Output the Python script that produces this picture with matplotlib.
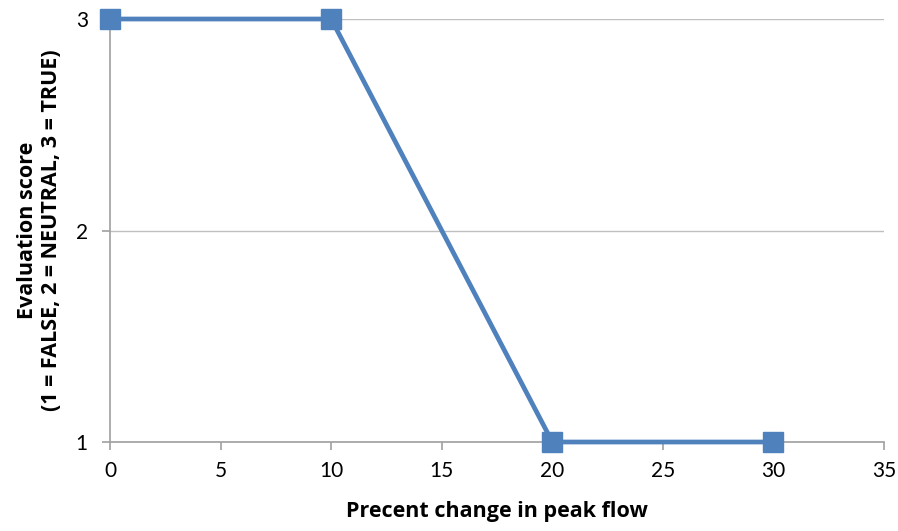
import numpy as np
import matplotlib.pyplot as plt

plt.rcParams['font.family'] = ['Lato', 'DejaVu Sans']

# data
pct_change = [0, 10, 20, 30]
score = [3, 3, 1, 1]
x_ticks = [0, 5, 10, 15, 20, 25, 30, 35]
y_ticks = [1, 2, 3]

fig = plt.figure(figsize=(8.98, 5.31), dpi=100)
ax = fig.add_axes([0.1225, 0.1676, 0.862, 0.7966])

ax.plot(pct_change, score, color='#4F81BD', linewidth=3.4, marker='s',
        markersize=14, clip_on=False, zorder=3)

ax.set_xlim(0, 35)
ax.set_ylim(1, 3)
ax.set_xticks(x_ticks)
ax.set_yticks(y_ticks)
ax.yaxis.grid(True, color='#BFBFBF', linewidth=1)
ax.set_axisbelow(True)

for s in ['top', 'right']:
    ax.spines[s].set_visible(False)
for s in ['left', 'bottom']:
    ax.spines[s].set_color('#A0A0A0')
    ax.spines[s].set_linewidth(1.2)
ax.tick_params(colors='#A0A0A0', labelcolor='black', labelsize=15,
               length=6, width=1.2)
ax.tick_params(axis='x', pad=8)
ax.tick_params(axis='y', pad=10)

lab_font = dict(family=['Open Sans', 'DejaVu Sans'], fontsize=15.5, fontweight='bold')
ax.set_xlabel('Precent change in peak flow', labelpad=14, **lab_font)
ax.set_ylabel('Evaluation score\n(1 = FALSE, 2 = NEUTRAL, 3 = TRUE)',
              labelpad=10, linespacing=1.15, **lab_font)

fig.savefig('out.png', dpi=100)
